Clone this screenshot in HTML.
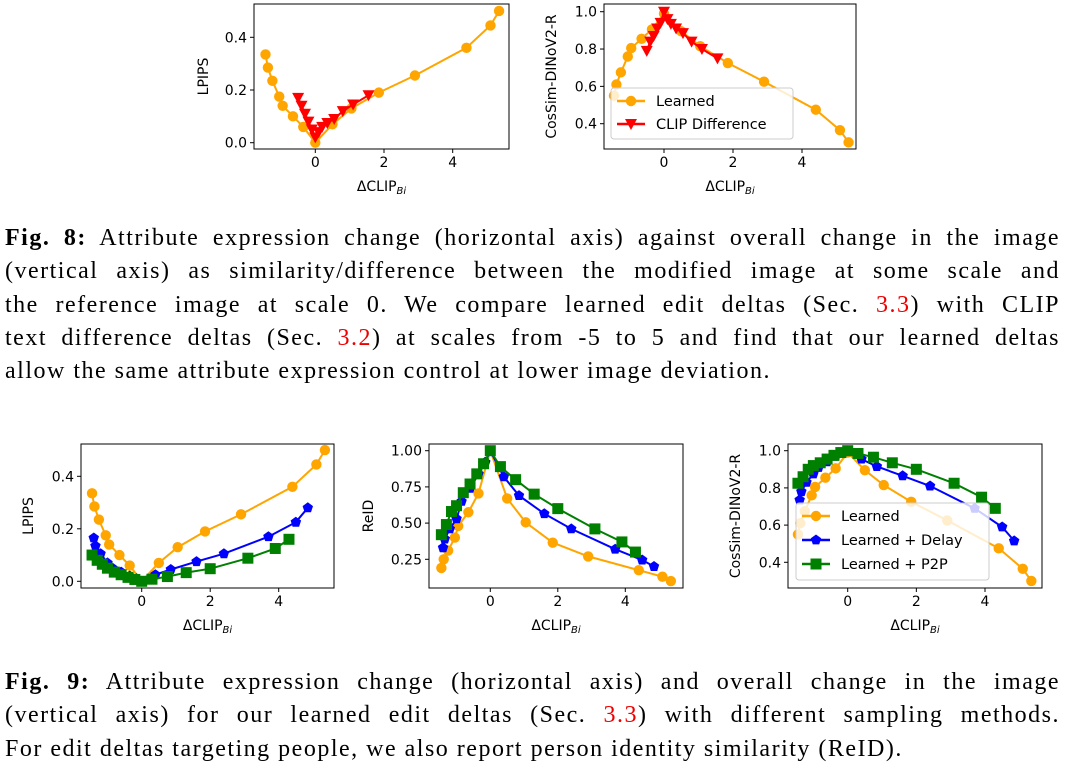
<!DOCTYPE html>
<html><head><meta charset="utf-8">
<style>
html,body{margin:0;padding:0;background:#fff;}
body{width:1066px;height:765px;position:relative;overflow:hidden;}
.cap{position:absolute;left:5px;width:1055px;font-family:"Liberation Serif",serif;font-size:24px;line-height:33.3px;color:#000;letter-spacing:1.5px;}
.cap div{white-space:nowrap;text-align:justify;text-align-last:justify;}
.cap div.last{text-align-last:left;}
.ref{color:#e00;}
svg text{font-family:"DejaVu Sans","Liberation Sans",sans-serif;}
</style></head><body>
<svg id="fig" width="1066" height="765" style="position:absolute;left:0;top:0"></svg>
<div class="cap" style="top:222px">
<div><b>Fig. 8:</b> Attribute expression change (horizontal axis) against overall change in the image</div>
<div>(vertical axis) as similarity/difference between the modified image at some scale and</div>
<div>the reference image at scale 0. We compare learned edit deltas (Sec. <span class="ref">3.3</span>) with CLIP</div>
<div>text difference deltas (Sec. <span class="ref">3.2</span>) at scales from -5 to 5 and find that our learned deltas</div>
<div class="last">allow the same attribute expression control at lower image deviation.</div>
</div>
<div class="cap" style="top:666px">
<div><b>Fig. 9:</b> Attribute expression change (horizontal axis) and overall change in the image</div>
<div>(vertical axis) for our learned edit deltas (Sec. <span class="ref">3.3</span>) with different sampling methods.</div>
<div class="last">For edit deltas targeting people, we also report person identity similarity (ReID).</div>
</div>
<script>
// ---- data ----
const learnedX = [-1.45,-1.38,-1.25,-1.05,-0.95,-0.65,-0.35,0,0.5,1.05,1.85,2.9,4.4,5.1,5.35];
const learnedLPIPS = [0.335,0.285,0.235,0.175,0.14,0.1,0.06,0.0,0.07,0.13,0.19,0.255,0.36,0.445,0.5];
const learnedCos = [0.55,0.61,0.675,0.76,0.805,0.855,0.905,0.99,0.895,0.815,0.725,0.625,0.475,0.365,0.3];
const learnedReID = [0.19,0.25,0.31,0.40,0.48,0.575,0.705,1.0,0.67,0.505,0.365,0.27,0.175,0.13,0.1];
const clipX = [-0.5,-0.4,-0.3,-0.2,-0.1,0,0.1,0.2,0.35,0.55,0.8,1.1,1.55];
const clipLPIPS = [0.17,0.14,0.11,0.08,0.05,0.02,0.04,0.06,0.075,0.09,0.12,0.145,0.18];
const clipCos = [0.79,0.84,0.87,0.91,0.94,1.0,0.96,0.935,0.91,0.885,0.84,0.8,0.75];
const delayX = [-1.4,-1.35,-1.2,-1.0,-0.85,-0.6,-0.35,-0.15,0,0.4,0.85,1.6,2.4,3.7,4.5,4.85];
const delayLPIPS = [0.165,0.135,0.105,0.07,0.05,0.035,0.02,0.01,0,0.025,0.045,0.075,0.105,0.17,0.225,0.28];
const delayReID = [0.33,0.39,0.46,0.53,0.65,0.74,0.84,0.92,1.0,0.82,0.69,0.565,0.46,0.32,0.245,0.2];
const delayCos = [0.735,0.78,0.83,0.875,0.91,0.94,0.97,0.985,1.0,0.955,0.915,0.865,0.81,0.69,0.59,0.515];
const p2pX = [-1.45,-1.3,-1.15,-1.0,-0.8,-0.6,-0.4,-0.2,0,0.3,0.75,1.3,2.0,3.1,3.9,4.3];
const p2pLPIPS = [0.1,0.08,0.065,0.05,0.035,0.025,0.015,0.007,0,0.008,0.018,0.033,0.048,0.088,0.125,0.16];
const p2pReID = [0.42,0.49,0.58,0.62,0.71,0.77,0.84,0.91,1.0,0.89,0.80,0.70,0.60,0.46,0.37,0.3];
const p2pCos = [0.825,0.86,0.9,0.92,0.935,0.955,0.975,0.99,1.0,0.985,0.965,0.935,0.9,0.825,0.75,0.69];
const xTicks = [0,2,4];
const yTicksLPIPS = [0.0,0.2,0.4];
const yTicksCos = [0.4,0.6,0.8,1.0];
const yTicksReID = [0.25,0.5,0.75,1.0];
const yTickLabelsLPIPS = ["0.0","0.2","0.4"];
const yTickLabelsCos = ["0.4","0.6","0.8","1.0"];
const yTickLabelsReID = ["0.25","0.50","0.75","1.00"];

const NS="http://www.w3.org/2000/svg";
const svg=document.getElementById('fig');
function mk(tag,attrs,parent){const e=document.createElementNS(NS,tag);for(const k in attrs)e.setAttribute(k,attrs[k]);(parent||svg).appendChild(e);return e;}
const COL={orange:'#FFA500',blue:'#0000FF',green:'#008000',red:'#FF0000'};

function marker(g,shape,cx,cy,color){
  let m;
  if(shape==='circle'){m=mk('circle',{cx:cx,cy:cy,r:5.2,fill:color},g);}
  else if(shape==='tri'){m=mk('polygon',{points:`${cx-6},${cy-5} ${cx+6},${cy-5} ${cx},${cy+6}`,fill:color},g);}
  else if(shape==='square'){m=mk('rect',{x:cx-5.5,y:cy-5.5,width:11,height:11,fill:color},g);}
  else {let p=[];for(let i=0;i<5;i++){const a=-Math.PI/2+i*2*Math.PI/5;p.push((cx+5.5*Math.cos(a)).toFixed(1)+','+(cy+5.5*Math.sin(a)).toFixed(1));}m=mk('polygon',{points:p.join(' '),fill:color},g);}
  return m;
}

function chart(cfg){
  const g=mk('g',{});
  
  
  const [xv0,xp0,xv1,xp1]=cfg.xa,[yv0,yp0,yv1,yp1]=cfg.ya;
  const sx=v=>xp0+(v-xv0)*(xp1-xp0)/(xv1-xv0);
  const sy=v=>yp0+(v-yv0)*(yp1-yp0)/(yv1-yv0);
  const b=cfg.box;
  cfg.series.forEach(s=>{
    const sg=mk('g',{},g);
    
    
    const pts=s.x.map((x,i)=>sx(x).toFixed(1)+','+sy(s.y[i]).toFixed(1)).join(' ');
    mk('polyline',{points:pts,fill:'none',stroke:s.color,'stroke-width':2},sg);
    s.x.forEach((x,i)=>{const m=marker(sg,s.shape,sx(x),sy(s.y[i]),s.color);
      
      });
  });
  const fr=mk('rect',{x:b[0],y:b[1],width:b[2]-b[0],height:b[3]-b[1],fill:'none',stroke:'#000','stroke-width':1},g);
  
  
  xTicks.forEach(t=>{const x=sx(t);mk('line',{x1:x,y1:b[3],x2:x,y2:b[3]+4,stroke:'#000'},g);
    const tx=mk('text',{x:x,y:b[3]+18,'font-size':14,'text-anchor':'middle'},g);tx.textContent=t;
    
    });
  cfg.yt.forEach((t,i)=>{const y=sy(t);mk('line',{x1:b[0]-4,y1:y,x2:b[0],y2:y,stroke:'#000'},g);
    const tx=mk('text',{x:b[0]-7,y:y+5,'font-size':14,'text-anchor':'end'},g);tx.textContent=cfg.ytl[i];
    
    });
  const xl=mk('text',{x:(b[0]+b[2])/2,y:b[3]+42,'font-size':14,'text-anchor':'middle'},g);
  
  
  xl.innerHTML='ΔCLIP<tspan font-size="10" font-style="italic" dy="3">Bi</tspan>';
  const yl=mk('text',{x:0,y:0,'font-size':14,'text-anchor':'middle',transform:`translate(${cfg.ylx},${(b[1]+b[3])/2}) rotate(-90)`},g);
  
  
  yl.textContent=cfg.ylabel;
  if(cfg.legend){const L=cfg.legend;
    const lg=mk('g',{},g);
    
    
    mk('rect',{x:L.x,y:L.y,width:L.w,height:L.h,rx:3,fill:'#fff','fill-opacity':0.8,stroke:'#ccc'},lg);
    cfg.series.forEach((s,i)=>{const y=L.y+13+i*L.dy;
      const e=mk('g',{},lg);
      
      
      mk('line',{x1:L.x+6,y1:y,x2:L.x+34,y2:y,stroke:s.color,'stroke-width':2.5},e);
      marker(e,s.shape,L.x+20,y,s.color);
      const t=mk('text',{x:L.x+45,y:y+5,'font-size':14.5},e);t.textContent=s.label;});
  }
}

chart({name:'chart-lpips-fig8',box:[254,4,509,149],xa:[0,315.3,4,452.7],ya:[0,142.7,0.4,37.3],yt:yTicksLPIPS,ytl:yTickLabelsLPIPS,ylabel:'LPIPS',ylx:208,
 series:[{name:'series-learned',x:learnedX,y:learnedLPIPS,color:COL.orange,shape:'circle',label:'Learned'},
         {name:'series-clip-difference',x:clipX,y:clipLPIPS,color:COL.red,shape:'tri',label:'CLIP Difference'}]});
chart({name:'chart-cossim-fig8',box:[604,4,856,149],xa:[0,664,4,802],ya:[1.0,11.7,0.4,123.7],yt:yTicksCos,ytl:yTickLabelsCos,ylabel:'CosSim-DINoV2-R',ylx:556,
 legend:{x:611,y:88,w:182,h:51,dy:23},
 series:[{name:'series-learned',x:learnedX,y:learnedCos,color:COL.orange,shape:'circle',label:'Learned'},
         {name:'series-clip-difference',x:clipX,y:clipCos,color:COL.red,shape:'tri',label:'CLIP Difference'}]});
chart({name:'chart-lpips-fig9',box:[81,444,334,588],xa:[0,141.7,4,278.7],ya:[0,581.3,0.4,476.3],yt:yTicksLPIPS,ytl:yTickLabelsLPIPS,ylabel:'LPIPS',ylx:33,
 series:[{name:'series-learned',x:learnedX,y:learnedLPIPS,color:COL.orange,shape:'circle',label:'Learned'},
         {name:'series-learned-delay',x:delayX,y:delayLPIPS,color:COL.blue,shape:'pent',label:'Learned + Delay'},
         {name:'series-learned-p2p',x:p2pX,y:p2pLPIPS,color:COL.green,shape:'square',label:'Learned + P2P'}]});
chart({name:'chart-reid-fig9',box:[429,444,683,588],xa:[0,490.3,4,625.3],ya:[1.0,450.7,0.25,559.3],yt:yTicksReID,ytl:yTickLabelsReID,ylabel:'ReID',ylx:373,
 series:[{name:'series-learned',x:learnedX,y:learnedReID,color:COL.orange,shape:'circle',label:'Learned'},
         {name:'series-learned-delay',x:delayX,y:delayReID,color:COL.blue,shape:'pent',label:'Learned + Delay'},
         {name:'series-learned-p2p',x:p2pX,y:p2pReID,color:COL.green,shape:'square',label:'Learned + P2P'}]});
chart({name:'chart-cossim-fig9',box:[788,444,1042,588],xa:[0,847.7,4,985],ya:[1.0,450.7,0.4,562.3],yt:yTicksCos,ytl:yTickLabelsCos,ylabel:'CosSim-DINoV2-R',ylx:740,
 legend:{x:796,y:503,w:193,h:77,dy:24},
 series:[{name:'series-learned',x:learnedX,y:learnedCos,color:COL.orange,shape:'circle',label:'Learned'},
         {name:'series-learned-delay',x:delayX,y:delayCos,color:COL.blue,shape:'pent',label:'Learned + Delay'},
         {name:'series-learned-p2p',x:p2pX,y:p2pCos,color:COL.green,shape:'square',label:'Learned + P2P'}]});
</script>
</body></html>
